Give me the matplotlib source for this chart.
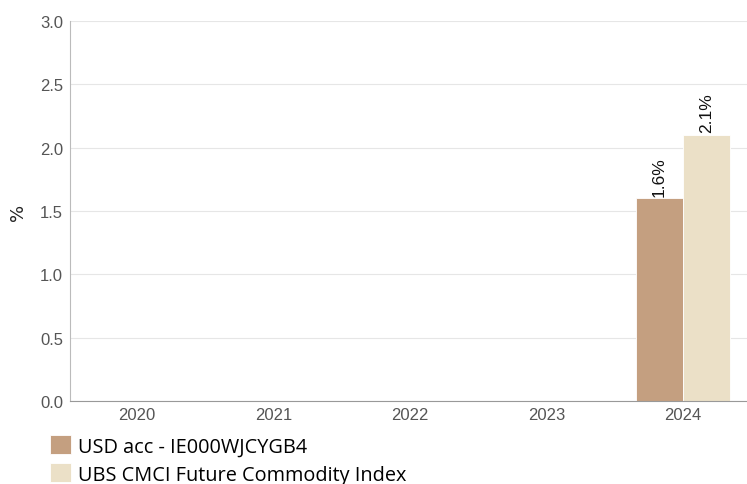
import matplotlib.pyplot as plt
import numpy as np

years = ["2020", "2021", "2022", "2023", "2024"]
fund = [np.nan, np.nan, np.nan, np.nan, 1.6]
index = [np.nan, np.nan, np.nan, np.nan, 2.1]
series_names = ["USD acc - IE000WJCYGB4", "UBS CMCI Future Commodity Index"]
y_ticks = [0.0, 0.5, 1.0, 1.5, 2.0, 2.5, 3.0]

c_fund = "#C49F80"
c_index = "#EBE0C7"

fig = plt.figure(figsize=(7.47, 4.85), dpi=100)
ax = fig.add_axes([70 / 747, 1 - 402 / 485, 677 / 747, 380 / 485])

x = np.arange(len(years))
w = 0.345
b1 = ax.bar(x - w / 2, fund, w, color=c_fund, label=series_names[0], edgecolor="white", linewidth=0.6)
b2 = ax.bar(x + w / 2, index, w, color=c_index, label=series_names[1], edgecolor="white", linewidth=0.6)

# rotated value labels above the bars
for bars, vals in ((b1, fund), (b2, index)):
    for rect, v in zip(bars, vals):
        if np.isnan(v):
            continue
        ax.annotate(f"{v:.1f}%", (rect.get_x() + rect.get_width() / 2, v),
                    xytext=(0, 2), textcoords="offset points", rotation=90,
                    ha="center", va="bottom", fontsize=12.5, color="#111111",
                    family="Liberation Sans")

ax.set_xlim(-0.49, -0.49 + 677 / 136.5)
ax.set_ylim(0, 3.0)
ax.set_yticks(y_ticks)
ax.set_yticklabels([f"{t:.1f}" for t in y_ticks])
ax.set_xticks(x)
ax.set_xticklabels(years)
ax.grid(axis="y", color="#E6E6E6", linewidth=0.8)
ax.set_axisbelow(True)
for s in ("top", "right"):
    ax.spines[s].set_visible(False)
ax.spines["left"].set_color("#BBBBBB")
ax.spines["bottom"].set_color("#999999")
ax.tick_params(axis="both", length=0, labelsize=12, colors="#555555", labelfontfamily="Liberation Sans")
ax.tick_params(axis="x", pad=4)
ax.tick_params(axis="y", pad=5)
fig.text(18 / 747, 1 - 212 / 485, "%", rotation=90, ha="center", va="center",
         fontsize=13, color="#222222")

fig.legend(handles=[b1, b2], loc="upper left", bbox_to_anchor=(50 / 747, 1 - 436 / 485),
           frameon=False, handlelength=1.05, handleheight=1.1,
           handletextpad=0.35, labelspacing=0.35, borderaxespad=0, borderpad=0,
           prop={"family": "Open Sans", "size": 14.3})

fig.savefig("out.png", dpi=100)
